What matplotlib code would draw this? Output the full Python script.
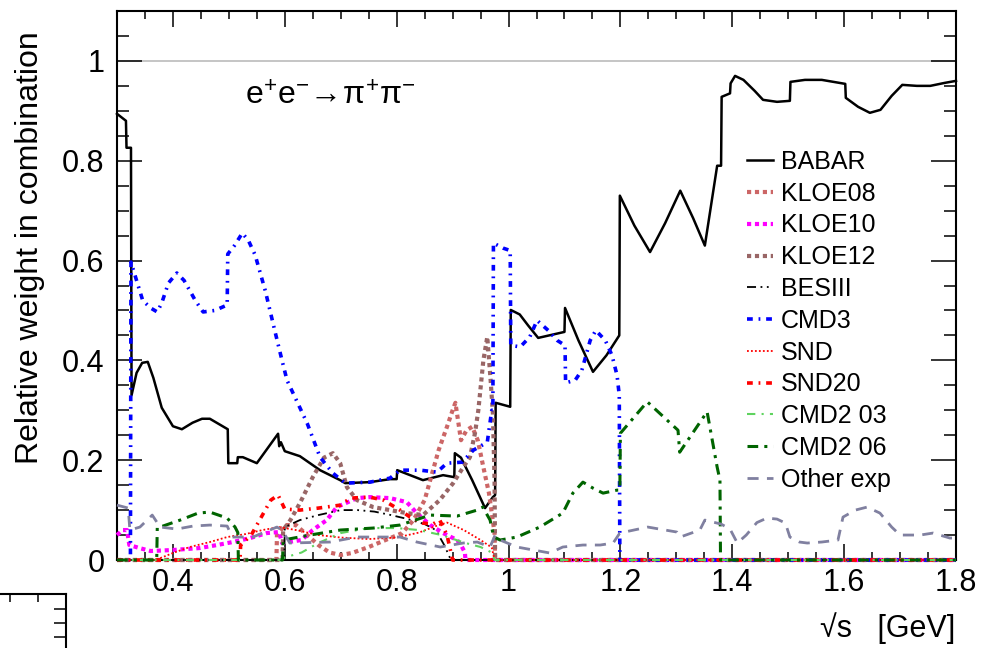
import numpy as np
import matplotlib
matplotlib.use("Agg")
import matplotlib.pyplot as plt
from matplotlib.ticker import MultipleLocator, FuncFormatter

plt.rcParams['font.family'] = ['Liberation Sans', 'DejaVu Sans']
plt.rcParams['mathtext.fontset'] = 'custom'
plt.rcParams['mathtext.rm'] = 'Liberation Sans'
plt.rcParams['mathtext.it'] = 'Liberation Sans'

# weights of each experiment in the pi+pi- combination, vs sqrt(s) in GeV
babar_x = [0.300, 0.316, 0.317, 0.325, 0.326, 0.335, 0.345, 0.355, 0.365, 0.380,
           0.400, 0.416, 0.435, 0.452, 0.466, 0.498, 0.499, 0.515, 0.516, 0.525,
           0.550, 0.588, 0.590, 0.593, 0.600, 0.627, 0.663, 0.699, 0.708, 0.752,
           0.788, 0.800, 0.801, 0.847, 0.883, 0.903, 0.904, 0.915, 0.935, 0.958,
           0.972, 0.976, 0.977, 1.003, 1.004, 1.020, 1.035, 1.053, 1.100, 1.101,
           1.125, 1.151, 1.175, 1.198, 1.199, 1.225, 1.253, 1.280, 1.307, 1.330,
           1.351, 1.373, 1.380, 1.381, 1.396, 1.397, 1.405, 1.420, 1.440, 1.455,
           1.480, 1.503, 1.504, 1.530, 1.560, 1.602, 1.603, 1.625, 1.646, 1.665,
           1.685, 1.704, 1.730, 1.754, 1.780, 1.800]
babar_y = [0.894, 0.880, 0.826, 0.826, 0.330, 0.375, 0.395, 0.397, 0.365, 0.305,
           0.268, 0.262, 0.275, 0.283, 0.283, 0.262, 0.194, 0.194, 0.206, 0.206,
           0.194, 0.253, 0.228, 0.236, 0.218, 0.208, 0.180, 0.160, 0.154, 0.156,
           0.162, 0.162, 0.180, 0.160, 0.170, 0.166, 0.214, 0.205, 0.160, 0.104,
           0.126, 0.130, 0.315, 0.307, 0.501, 0.492, 0.470, 0.445, 0.457, 0.505,
           0.440, 0.377, 0.410, 0.450, 0.730, 0.670, 0.617, 0.675, 0.740, 0.685,
           0.630, 0.790, 0.790, 0.928, 0.935, 0.955, 0.970, 0.962, 0.940, 0.922,
           0.918, 0.920, 0.958, 0.962, 0.962, 0.954, 0.926, 0.908, 0.896, 0.902,
           0.930, 0.952, 0.950, 0.950, 0.956, 0.960]

kloe08_x = [0.300, 0.585, 0.586, 0.600, 0.620, 0.640, 0.660, 0.680, 0.700, 0.720,
            0.750, 0.780, 0.810, 0.830, 0.850, 0.860, 0.875, 0.890, 0.900, 0.905,
            0.915, 0.925, 0.935, 0.945, 0.955, 0.965, 0.970, 0.975, 0.976, 1.800]
kloe08_y = [0.000, 0.000, 0.050, 0.070, 0.070, 0.050, 0.030, 0.015, 0.010, 0.014,
            0.026, 0.040, 0.054, 0.080, 0.120, 0.160, 0.220, 0.267, 0.300, 0.315,
            0.240, 0.260, 0.267, 0.240, 0.186, 0.134, 0.094, 0.054, 0.000, 0.000]

kloe10_x = [0.300, 0.310, 0.318, 0.322, 0.340, 0.360, 0.400, 0.448, 0.479, 0.507,
            0.538, 0.568, 0.590, 0.595, 0.630, 0.650, 0.675, 0.693, 0.729, 0.752,
            0.788, 0.818, 0.836, 0.860, 0.883, 0.908, 0.915, 0.922, 0.923, 1.800]
kloe10_y = [0.050, 0.060, 0.060, 0.030, 0.024, 0.018, 0.020, 0.024, 0.030, 0.036,
            0.044, 0.054, 0.056, 0.034, 0.040, 0.060, 0.080, 0.106, 0.124, 0.126,
            0.124, 0.116, 0.094, 0.070, 0.054, 0.040, 0.030, 0.015, 0.000, 0.000]

kloe12_x = [0.300, 0.596, 0.597, 0.610, 0.627, 0.650, 0.670, 0.686, 0.699, 0.711,
            0.729, 0.758, 0.788, 0.818, 0.847, 0.877, 0.901, 0.919, 0.931, 0.940,
            0.946, 0.955, 0.962, 0.968, 0.972, 0.975, 0.976, 1.800]
kloe12_y = [0.000, 0.000, 0.060, 0.080, 0.114, 0.166, 0.205, 0.214, 0.194, 0.146,
            0.120, 0.106, 0.100, 0.094, 0.090, 0.120, 0.154, 0.186, 0.206, 0.254,
            0.300, 0.400, 0.447, 0.360, 0.294, 0.160, 0.000, 0.000]

besiii_x = [0.300, 0.599, 0.600, 0.627, 0.660, 0.700, 0.730, 0.760, 0.790, 0.820,
            0.850, 0.870, 0.885, 0.895, 0.900, 1.800]
besiii_y = [0.000, 0.000, 0.066, 0.080, 0.090, 0.100, 0.100, 0.097, 0.090, 0.082,
            0.072, 0.060, 0.030, 0.005, 0.000, 0.000]

cmd3_x = [0.300, 0.324, 0.325, 0.335, 0.346, 0.360, 0.372, 0.380, 0.392, 0.407,
          0.420, 0.440, 0.454, 0.475, 0.497, 0.498, 0.510, 0.524, 0.535, 0.547,
          0.565, 0.582, 0.595, 0.604, 0.640, 0.663, 0.686, 0.708, 0.752, 0.788,
          0.806, 0.842, 0.872, 0.890, 0.917, 0.937, 0.962, 0.970, 0.972, 0.973,
          0.990, 1.003, 1.004, 1.021, 1.038, 1.051, 1.071, 1.087, 1.101, 1.102,
          1.119, 1.131, 1.146, 1.156, 1.173, 1.185, 1.194, 1.198, 1.199, 1.800]
cmd3_y = [0.000, 0.000, 0.597, 0.560, 0.520, 0.505, 0.497, 0.515, 0.555, 0.575,
          0.560, 0.520, 0.497, 0.500, 0.511, 0.613, 0.630, 0.655, 0.640, 0.611,
          0.540, 0.460, 0.400, 0.360, 0.274, 0.206, 0.174, 0.154, 0.156, 0.164,
          0.180, 0.180, 0.176, 0.194, 0.196, 0.220, 0.236, 0.300, 0.300, 0.635,
          0.625, 0.620, 0.430, 0.427, 0.447, 0.480, 0.460, 0.440, 0.430, 0.355,
          0.360, 0.380, 0.440, 0.460, 0.440, 0.410, 0.370, 0.330, 0.000, 0.000]

snd_x = [0.300, 0.370, 0.380, 0.400, 0.430, 0.466, 0.497, 0.530, 0.560, 0.590,
         0.620, 0.660, 0.700, 0.750, 0.800, 0.840, 0.870, 0.890, 0.920, 0.950,
         0.970, 0.975, 1.800]
snd_y = [0.000, 0.000, 0.005, 0.014, 0.026, 0.036, 0.046, 0.052, 0.060, 0.066,
         0.060, 0.050, 0.045, 0.042, 0.045, 0.055, 0.068, 0.075, 0.060, 0.040,
         0.025, 0.000, 0.000]

snd20_x = [0.300, 0.520, 0.521, 0.540, 0.560, 0.575, 0.588, 0.600, 0.627, 0.660,
           0.700, 0.717, 0.752, 0.776, 0.806, 0.824, 0.847, 0.865, 0.877, 0.890,
           0.900, 1.800]
snd20_y = [0.000, 0.000, 0.030, 0.050, 0.090, 0.120, 0.130, 0.102, 0.100, 0.104,
           0.110, 0.124, 0.126, 0.120, 0.100, 0.086, 0.074, 0.072, 0.080, 0.050,
           0.000, 0.000]

cmd2_03_x = [0.300, 0.590, 0.600, 0.630, 0.660, 0.700, 0.750, 0.800, 0.840, 0.880,
             0.920, 0.950, 0.970, 0.975, 1.800]
cmd2_03_y = [0.000, 0.000, 0.005, 0.015, 0.034, 0.054, 0.064, 0.064, 0.060, 0.050,
             0.035, 0.026, 0.015, 0.000, 0.000]

cmd2_06_x = [0.300, 0.371, 0.372, 0.377, 0.413, 0.445, 0.466, 0.497, 0.511, 0.516,
             0.517, 0.596, 0.597, 0.645, 0.699, 0.758, 0.806, 0.860, 0.908, 0.944,
             0.954, 0.967, 0.972, 0.976, 0.985, 1.015, 1.056, 1.097, 1.115, 1.133,
             1.151, 1.169, 1.194, 1.199, 1.200, 1.248, 1.303, 1.306, 1.355, 1.373,
             1.378, 1.379, 1.800]
cmd2_06_y = [0.000, 0.000, 0.066, 0.066, 0.080, 0.094, 0.096, 0.084, 0.066, 0.055,
             0.000, 0.000, 0.040, 0.050, 0.060, 0.064, 0.070, 0.090, 0.088, 0.100,
             0.106, 0.080, 0.054, 0.045, 0.040, 0.046, 0.066, 0.094, 0.134, 0.156,
             0.144, 0.134, 0.140, 0.140, 0.254, 0.317, 0.260, 0.216, 0.297, 0.186,
             0.160, 0.000, 0.000]

other_x = [0.300, 0.320, 0.323, 0.341, 0.363, 0.377, 0.407, 0.436, 0.466, 0.497,
           0.506, 0.543, 0.586, 0.595, 0.609, 0.681, 0.729, 0.806, 0.836, 0.878,
           0.919, 0.944, 0.967, 0.976, 0.985, 1.015, 1.074, 1.097, 1.133, 1.164,
           1.187, 1.199, 1.249, 1.301, 1.307, 1.342, 1.351, 1.380, 1.396, 1.409,
           1.425, 1.444, 1.462, 1.480, 1.495, 1.503, 1.520, 1.534, 1.560, 1.589,
           1.598, 1.620, 1.641, 1.664, 1.685, 1.700, 1.736, 1.759, 1.789, 1.800]
other_y = [0.110, 0.104, 0.060, 0.066, 0.090, 0.066, 0.062, 0.068, 0.070, 0.068,
           0.046, 0.046, 0.066, 0.060, 0.034, 0.036, 0.046, 0.046, 0.036, 0.026,
           0.034, 0.036, 0.026, 0.050, 0.040, 0.026, 0.014, 0.026, 0.030, 0.030,
           0.034, 0.054, 0.066, 0.056, 0.046, 0.060, 0.080, 0.072, 0.062, 0.034,
           0.050, 0.075, 0.084, 0.082, 0.074, 0.046, 0.036, 0.034, 0.036, 0.040,
           0.086, 0.100, 0.106, 0.094, 0.066, 0.050, 0.050, 0.054, 0.044, 0.044]

series = [
    ("BABAR",     babar_x,   babar_y,   "black",   1.8, "-"),
    ("KLOE08",    kloe08_x,  kloe08_y,  "#cc6666", 3.0, (0, (1.0, 0.9))),
    ("KLOE10",    kloe10_x,  kloe10_y,  "#ff00ff", 3.0, (0, (1.0, 0.9))),
    ("KLOE12",    kloe12_x,  kloe12_y,  "#996666", 3.0, (0, (1.0, 0.9))),
    ("BESIII",    besiii_x,  besiii_y,  "black",   1.3, (0, (5, 2.5, 1, 2.5, 1, 2.5))),
    ("CMD3",      cmd3_x,    cmd3_y,    "#0000ff", 2.6, (0, (1.6, 1.6, 0.5, 1.6))),
    ("SND",       snd_x,     snd_y,     "#ff0000", 1.3, (0, (1, 1.2))),
    ("SND20",     snd20_x,   snd20_y,   "#ff0000", 2.6, (0, (1.6, 1.6, 0.5, 1.6))),
    ("CMD2 03",   cmd2_03_x, cmd2_03_y, "#5fd35f", 1.5, (0, (4, 3, 1, 3))),
    ("CMD2 06",   cmd2_06_x, cmd2_06_y, "#006400", 2.2, (0, (3.5, 2, 1, 2))),
    ("Other exp", other_x,   other_y,   "#8080a0", 2.0, (0, (4, 3))),
]

fig = plt.figure(figsize=(9.81, 6.48), dpi=100)
ax = fig.add_axes([117 / 981, 88 / 648, 839 / 981, 549 / 648])

ax.axhline(1.0, color="#bbbbbb", lw=1.2, zorder=1)
for name, xs, ys, col, lw, ls in series:
    ax.plot(xs, ys, color=col, lw=lw, linestyle=ls, label=name, clip_on=False, zorder=3)

ax.set_xlim(0.3, 1.8)
ax.set_ylim(0, 1.1)
ax.xaxis.set_major_locator(MultipleLocator(0.2))
ax.xaxis.set_minor_locator(MultipleLocator(0.05))
ax.yaxis.set_major_locator(MultipleLocator(0.2))
ax.yaxis.set_minor_locator(MultipleLocator(0.05))
fmt = FuncFormatter(lambda v, p: "%g" % round(v, 3))
ax.xaxis.set_major_formatter(fmt)
ax.yaxis.set_major_formatter(fmt)
ax.tick_params(which="both", direction="in", top=True, right=True, labelsize=22, width=1.1)
ax.tick_params(axis="x", which="major", length=11.5, pad=6)
ax.tick_params(axis="x", which="minor", length=5.8)
ax.tick_params(axis="y", which="major", length=18, pad=9)
ax.tick_params(axis="y", which="minor", length=8.6)
for s in ax.spines.values():
    s.set_linewidth(1.5)

ax.text(0.681, 0.928, r"$\mathregular{e^{+}e^{-}\!\rightarrow\!\pi^{+}\pi^{-}}$",
        fontsize=23, ha="center", va="center")

fig.text(30 / 981, 1 - 248 / 648, "Relative weight in combination",
         rotation=90, ha="center", va="center", fontsize=23)
fig.text(955 / 981, 1 - 628 / 648, "\u221as   [GeV]", ha="right", va="center", fontsize=22)

ax.legend(loc="upper left", bbox_to_anchor=(747 / 981, 1 - 150 / 648),
          bbox_transform=fig.transFigure, frameon=False, fontsize=18,
          handlelength=1.05, handletextpad=0.3, labelspacing=0.31,
          borderpad=0, borderaxespad=0)

# corner of a neighbouring pad peeking in at the bottom left
corner = fig.add_axes([-0.5, -0.5, 0.5 + 66 / 981, 0.5 + 54 / 648])
corner.set_xlim(-490.5, 66)
corner.set_ylim(-324, 54)
for side in ("left", "bottom"):
    corner.spines[side].set_visible(False)
corner.spines["top"].set_linewidth(1.5)
corner.spines["right"].set_linewidth(1.5)
corner.set_xticks([10, 38])
corner.set_yticks([11, 25, 39])
corner.tick_params(direction="in", bottom=False, left=False, top=True, right=True,
                   labelbottom=False, labelleft=False, width=1.1)
corner.tick_params(axis="x", length=6)
corner.tick_params(axis="y", length=9)

fig.savefig("out.png", dpi=100)
